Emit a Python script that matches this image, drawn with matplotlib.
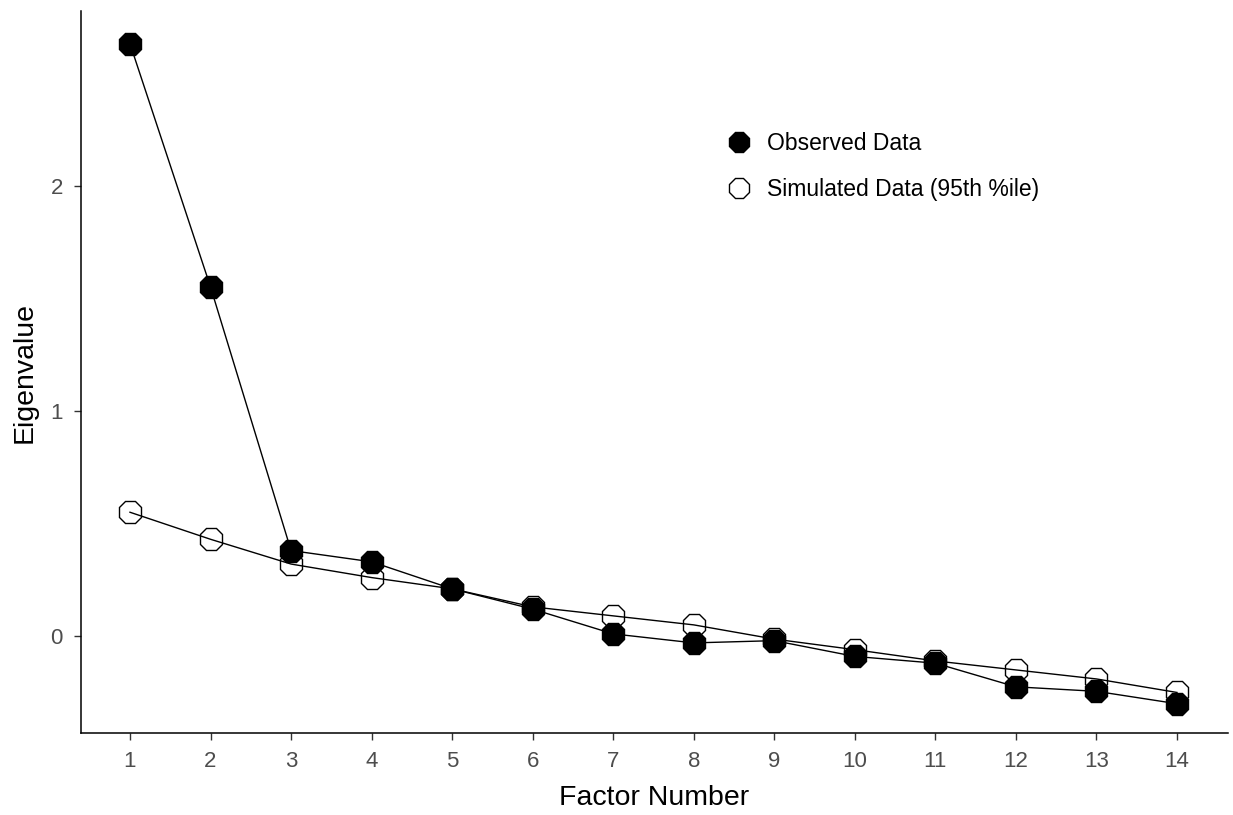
import matplotlib
matplotlib.use("Agg")
import matplotlib.pyplot as plt
from matplotlib.lines import Line2D

plt.rcParams["font.family"] = ["Liberation Sans", "DejaVu Sans"]

# ======================================================
# DATA
# ======================================================
factor_number = list(range(1, 15))
observed = [2.63, 1.55, 0.38, 0.33, 0.21, 0.12, 0.01,
            -0.03, -0.02, -0.09, -0.12, -0.225, -0.245, -0.30]
simulated = [0.55, 0.43, 0.32, 0.26, 0.21, 0.13, 0.09,
             0.05, -0.013, -0.06, -0.11, -0.15, -0.19, -0.25]
y_ticks = [0, 1, 2]
legend_labels = ["Observed Data", "Simulated Data (95th %ile)"]

# ======================================================
# PLOTTING
# ======================================================
fig = plt.figure(figsize=(12.33, 8.15), dpi=100)
ax = fig.add_axes([0.0657, 0.1006, 0.9303, 0.8859])

marker_size = 17

ax.plot(factor_number, simulated, color="black", lw=1.0, marker="8",
        markersize=marker_size, markerfacecolor="none",
        markeredgecolor="black", markeredgewidth=1.0, zorder=2)
ax.plot(factor_number, observed, color="black", lw=1.0, marker="8",
        markersize=marker_size, markerfacecolor="black",
        markeredgecolor="black", markeredgewidth=1.0, zorder=3)

ax.set_xlim(0.392, 14.634)
ax.set_ylim(-0.43, 2.775)
ax.set_xticks(factor_number)
ax.set_yticks(y_ticks)

for side in ["top", "right"]:
    ax.spines[side].set_visible(False)
for side in ["left", "bottom"]:
    ax.spines[side].set_color("black")
    ax.spines[side].set_linewidth(1.1)

ax.tick_params(axis="both", direction="out", length=5, width=1,
               color="#333333", labelcolor="#4D4D4D", labelsize=16)
ax.tick_params(axis="x", pad=8)
ax.tick_params(axis="y", pad=8)

ax.set_xlabel("Factor Number", fontsize=20.5, color="black", labelpad=9)
ax.set_ylabel("Eigenvalue", fontsize=20.5, color="black", labelpad=9)

# ======================================================
# LEGEND (markers only)
# ======================================================
handles = [
    Line2D([], [], ls="none", marker="8", markersize=marker_size - 1,
           markerfacecolor="black", markeredgecolor="black"),
    Line2D([], [], ls="none", marker="8", markersize=marker_size - 1,
           markerfacecolor="none", markeredgecolor="black"),
]
ax.legend(handles, legend_labels, loc="upper left",
          bbox_to_anchor=(0.5869, 0.838), bbox_transform=fig.transFigure,
          frameon=False, fontsize=16.5, borderpad=0, borderaxespad=0,
          handlelength=1.3, handletextpad=0.6, labelspacing=1.0)

fig.savefig("out.png", dpi=100)
plt.close(fig)
